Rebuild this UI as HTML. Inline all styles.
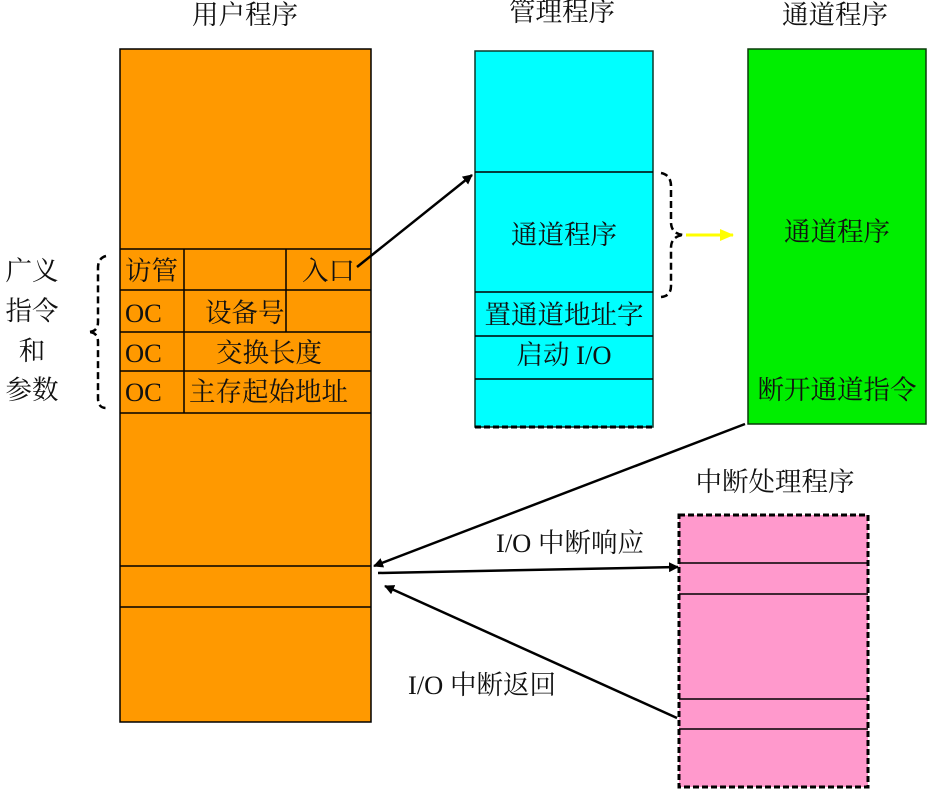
<!DOCTYPE html>
<html><head><meta charset="utf-8"><style>body{margin:0;background:#fff}svg{display:block}text{font-family:"Liberation Serif","Noto Serif CJK SC",serif;font-size:26.5px;fill:#111}</style></head><body>
<svg width="932" height="792" viewBox="0 0 932 792">
<defs><marker id="a" markerWidth="10" markerHeight="10" refX="9" refY="5" orient="auto" markerUnits="userSpaceOnUse" viewBox="0 0 10 10"><path d="M0,0 L10,5 L0,10 z" fill="#000"/></marker>
<marker id="y" markerWidth="14" markerHeight="12" refX="13" refY="6" orient="auto" markerUnits="userSpaceOnUse"><path d="M0,0 L14,6 L0,12 z" fill="#ff0"/></marker></defs>
<g text-anchor="middle">
<text x="245" y="24">用户程序</text><text x="562" y="21">管理程序</text><text x="835" y="24">通道程序</text><text x="775" y="491">中断处理程序</text>
</g>
<rect x="120" y="49" width="251" height="673" fill="#ff9900" stroke="#000" stroke-width="1.5"/>
<g stroke="#000" stroke-width="1.5">
<line x1="120" y1="249" x2="371" y2="249"/><line x1="120" y1="290" x2="371" y2="290"/><line x1="120" y1="332" x2="371" y2="332"/><line x1="120" y1="371" x2="371" y2="371"/><line x1="120" y1="413" x2="371" y2="413"/><line x1="120" y1="566" x2="371" y2="566"/><line x1="120" y1="607" x2="371" y2="607"/>
<line x1="184" y1="249" x2="184" y2="413"/><line x1="286" y1="249" x2="286" y2="332"/>
</g>
<text x="125" y="280">访管</text><text x="302" y="280">入口</text>
<text x="125" y="322">OC</text><text x="205" y="322">设备号</text>
<text x="125" y="362">OC</text><text x="216" y="362">交换长度</text>
<text x="125" y="401">OC</text><text x="189" y="401">主存起始地址</text>
<g text-anchor="middle"><text x="32" y="280">广义</text><text x="32" y="320">指令</text><text x="32" y="360">和</text><text x="32" y="399">参数</text></g>
<path d="M106,256 Q98,258 98,268 L98,322 Q98,332 88,332 Q98,332 98,342 L98,398 Q98,408 106,408" fill="none" stroke="#000" stroke-width="2.5" stroke-dasharray="7,4"/>
<rect x="475" y="51" width="178" height="376" fill="#00ffff" stroke="#0a3a2a" stroke-width="1.5"/>
<line x1="475" y1="427" x2="653" y2="427" stroke="#000" stroke-width="3" stroke-dasharray="6,3"/>
<g stroke="#000" stroke-width="1.5"><line x1="475" y1="172" x2="653" y2="172"/><line x1="475" y1="292" x2="653" y2="292"/><line x1="475" y1="336" x2="653" y2="336"/><line x1="475" y1="379" x2="653" y2="379"/></g>
<g text-anchor="middle"><text x="564" y="244">通道程序</text><text x="564" y="324">置通道地址字</text><text x="564" y="364">启动 I/O</text></g>
<path d="M661,173 Q671,175 671,186 L671,222 Q671,234 684,235 Q671,236 671,248 L671,286 Q671,296 661,297" fill="none" stroke="#000" stroke-width="2.5" stroke-dasharray="7,4"/>
<line x1="686" y1="235" x2="733" y2="235" stroke="#ff0" stroke-width="3" marker-end="url(#y)"/>
<rect x="748" y="49" width="178" height="375" fill="#00ee00" stroke="#0a3a0a" stroke-width="1.5"/>
<g text-anchor="middle"><text x="837" y="241">通道程序</text><text x="837" y="399">断开通道指令</text></g>
<rect x="679" y="515" width="189" height="272" fill="#ff99cc" stroke="#000" stroke-width="3" stroke-dasharray="6,3"/>
<g stroke="#000" stroke-width="1.5"><line x1="679" y1="563" x2="868" y2="563"/><line x1="679" y1="594" x2="868" y2="594"/><line x1="679" y1="699" x2="868" y2="699"/><line x1="679" y1="729" x2="868" y2="729"/></g>
<g stroke="#000" stroke-width="2.5" fill="none">
<line x1="357" y1="267" x2="472" y2="175" marker-end="url(#a)"/>
<line x1="745" y1="424" x2="374" y2="566" marker-end="url(#a)"/>
<line x1="378" y1="573" x2="678" y2="567" marker-end="url(#a)"/>
<line x1="677" y1="718" x2="385" y2="586" marker-end="url(#a)"/>
</g>
<text x="496" y="552">I/O 中断响应</text>
<text x="408" y="694">I/O 中断返回</text>
</svg></body></html>
